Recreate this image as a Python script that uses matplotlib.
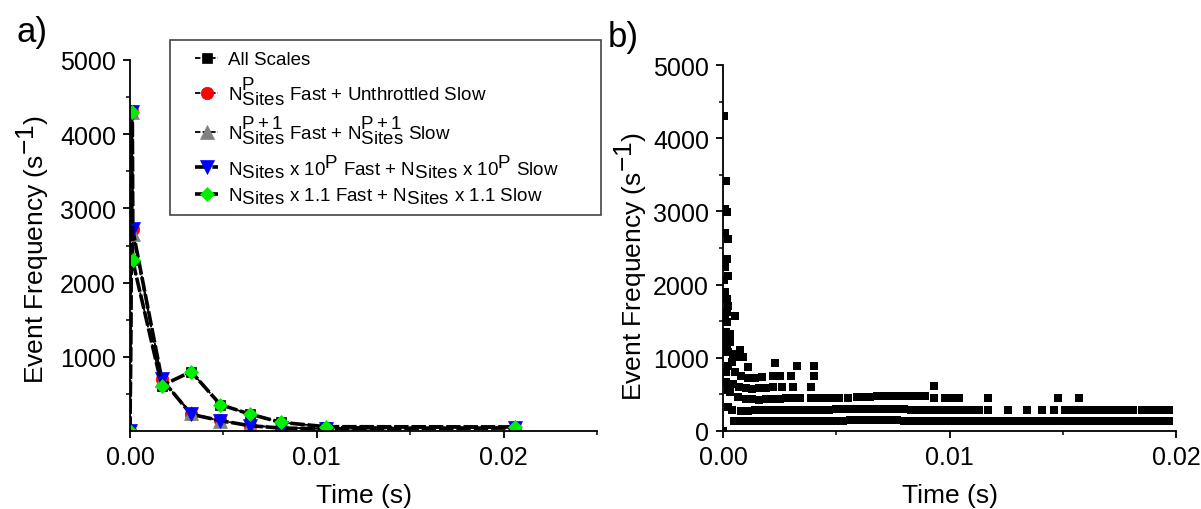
import matplotlib
matplotlib.use("Agg")
import matplotlib.pyplot as plt
from matplotlib.patches import Rectangle
import matplotlib._mathtext as _mt

# Origin-style full-size sub/superscripts
_mt.SHRINK_FACTOR = 1.0

plt.rcParams['font.family'] = ['Liberation Sans', 'DejaVu Sans']
plt.rcParams['mathtext.fontset'] = 'custom'
plt.rcParams['mathtext.rm'] = 'Liberation Sans'
plt.rcParams['mathtext.it'] = 'Liberation Sans:italic'
plt.rcParams['mathtext.bf'] = 'Liberation Sans:bold'

# ---------------- Panel a data ----------------
t_a = [0.0, 0.00012, 0.00014, 0.0017, 0.00327, 0.00484, 0.0064, 0.00807, 0.0105, 0.0206]
all_scales = [0, 4300, 2300, 611, 800, 355, 229, 117, 58, 40]
np_fast_unthrottled = [0, 4310, 2720, 700, 232, 142, 74, 45, 30, 45]
np1_fast_np1_slow = [0, 4300, 2650, 690, 245, 130, 80, 40, 30, 55]
n10p_fast_n10p_slow = [0, 4300, 2720, 700, 225, 140, 72, 40, 30, 40]
n11_fast_n11_slow = [0, 4300, 2300, 611, 800, 355, 229, 117, 58, 55]

labels_a = [
    "All Scales",
    r"$\mathregular{N^{P}_{Sites}}$ Fast + Unthrottled Slow",
    r"$\mathregular{N^{P+1}_{Sites}}$ Fast + $\mathregular{N^{P+1}_{Sites}}$ Slow",
    r"$\mathregular{N_{Sites}}$ x 10$^{\mathregular{P}}$ Fast + $\mathregular{N_{Sites}}$ x 10$^{\mathregular{P}}$ Slow",
    r"$\mathregular{N_{Sites}}$ x 1.1 Fast + $\mathregular{N_{Sites}}$ x 1.1 Slow",
]

# ---------------- Panel b data ----------------
burst_t = [0.0, 0.00006, 0.00012, 0.00009, 0.00016, 0.00009, 0.00021, 0.00016, 0.00009,
           0.00020, 0.00006, 0.00010, 0.00016, 0.00024, 0.00016, 0.00053, 0.00008,
           0.00018, 0.00012, 0.00030, 0.00024, 0.00016, 0.00006, 0.00016, 0.00053,
           0.00024, 0.00053, 0.00038, 0.00020, 0.00012, 0.00030, 0.00045, 0.00014,
           0.00024]
burst_f = [0, 4300, 3420, 3030, 2990, 2710, 2620, 2350, 2240,
           2120, 2060, 1900, 1800, 1710, 1620, 1570, 1530,
           1490, 1350, 1320, 1300, 1190, 1250, 1075, 1007,
           892, 802, 940, 1080, 800, 1210, 1050, 665,
           560]

band1_t = [0.0005, 0.0008, 0.0011, 0.0014, 0.0017, 0.0020, 0.0023, 0.0026, 0.0029, 0.0032,
           0.0035, 0.0038, 0.0041, 0.0044, 0.0047, 0.0050, 0.0053, 0.0056, 0.0059, 0.0062,
           0.0065, 0.0068, 0.0071, 0.0074, 0.0077, 0.0080, 0.0083, 0.0086, 0.0089, 0.0092,
           0.0095, 0.0098, 0.0101, 0.0104, 0.0107, 0.0110, 0.0113, 0.0116, 0.0119, 0.0122,
           0.0125, 0.0128, 0.0131, 0.0134, 0.0137, 0.0140, 0.0143, 0.0146, 0.0149, 0.0152,
           0.0155, 0.0158, 0.0161, 0.0164, 0.0167, 0.0170, 0.0173, 0.0176, 0.0179, 0.0182,
           0.0185, 0.0188, 0.0191, 0.0194, 0.0197]
band1_f = [140, 135, 130, 130, 130, 132, 132, 133, 133, 133,
           134, 134, 135, 135, 136, 137, 140, 145, 148, 150,
           150, 150, 150, 150, 148, 142, 138, 136, 135, 135,
           135, 135, 135, 135, 135, 135, 135, 135, 135, 135,
           135, 135, 135, 135, 135, 135, 135, 136, 137, 138,
           138, 138, 138, 138, 138, 137, 136, 136, 136, 136,
           136, 136, 136, 136, 136]

band2_t = [0.00024, 0.00038,
           0.0008, 0.0011, 0.0014, 0.0017, 0.0020, 0.0023, 0.0026, 0.0029, 0.0032, 0.0035,
           0.0038, 0.0041, 0.0044, 0.0047, 0.0050, 0.0053, 0.0056, 0.0059, 0.0062, 0.0065,
           0.0068, 0.0071, 0.0074, 0.0077, 0.0080, 0.0083, 0.0086, 0.0089, 0.0092, 0.0095,
           0.0098, 0.0101, 0.0104, 0.0107,
           0.0110, 0.0113, 0.0117, 0.0126, 0.0134, 0.0141, 0.0146, 0.0151, 0.0154, 0.0157,
           0.0160, 0.0163, 0.0166, 0.0169, 0.0172, 0.0175, 0.0178, 0.0181, 0.0185, 0.0188,
           0.0191, 0.0194, 0.0197]
band2_f = [323, 290,
           280, 280, 282, 284, 285, 286, 286, 287, 288, 288,
           288, 289, 290, 292, 294, 296, 298, 300, 300, 302,
           302, 302, 300, 298, 296, 292, 290, 288, 287, 287,
           287, 287, 287, 287,
           287, 287, 287, 287, 287, 287, 287, 287, 287, 287,
           287, 287, 287, 287, 287, 287, 287, 287, 287, 287,
           287, 287, 287]

band3_t = [0.0003, 0.00068, 0.0010, 0.0013, 0.0016, 0.0019, 0.0022, 0.0025, 0.0028, 0.0031,
           0.0034, 0.0039, 0.0042, 0.0045, 0.0048, 0.0051, 0.0055, 0.0059, 0.0062, 0.0065,
           0.0068, 0.0071, 0.0074, 0.0077, 0.0080, 0.0083, 0.0086, 0.0089, 0.0093, 0.0098,
           0.0101, 0.0104, 0.0117, 0.0148, 0.0157]
band3_f = [529, 460, 440, 432, 430, 435, 440, 443, 445, 447,
           448, 450, 450, 450, 452, 452, 455, 460, 465, 470,
           475, 480, 482, 482, 480, 478, 475, 472, 455, 450,
           450, 450, 450, 450, 450]

band4_t = [0.00045, 0.0007, 0.0010, 0.0013, 0.0016, 0.0019, 0.0022, 0.0026, 0.0031, 0.0039, 0.0093]
band4_f = [640, 600, 585, 580, 585, 590, 600, 600, 600, 600, 620]

band5_t = [0.00053, 0.0008, 0.0011, 0.0014, 0.0017, 0.0022, 0.0025, 0.0030, 0.0040]
band5_f = [800, 745, 720, 720, 735, 750, 745, 750, 750]

band6_t = [0.00075, 0.0009, 0.0011, 0.0023, 0.00325, 0.0040]
band6_f = [1100, 1010, 880, 925, 885, 885]

# ---------------- Figure ----------------
fig = plt.figure(figsize=(12.01, 5.10), dpi=100)
W, H = 1201, 510

ax_a = fig.add_axes([130 / W, 1 - 432 / H, 467 / W, 371 / H])
ax_b = fig.add_axes([723 / W, 1 - 432 / H, 453 / W, 366 / H])

tick_fs = 18
lab_fs = 19

for ax in (ax_a, ax_b):
    for s in ('top', 'right'):
        ax.spines[s].set_visible(False)
    for s in ('left', 'bottom'):
        ax.spines[s].set_linewidth(1.3)
    ax.tick_params(which='major', direction='out', length=5, width=1.3,
                   labelsize=tick_fs, pad=5)
    ax.tick_params(which='minor', direction='out', length=3, width=1.1)

# Panel a
series = [
    (all_scales, 's', 'black', 6.5, 1.3, (3, 1.2)),
    (np_fast_unthrottled, 'o', 'red', 9, 1.3, (3, 1.2)),
    (np1_fast_np1_slow, '^', 'gray', 9.5, 1.3, (3, 1.2)),
    (n10p_fast_n10p_slow, 'v', 'blue', 9.5, 2.6, (4, 0.8)),
    (n11_fast_n11_slow, 'D', '#00ee00', 7.5, 2.6, (4, 0.8)),
]
handles = []
for (vals, mk, col, ms, lw, dsh), lab in zip(series, labels_a):
    ln, = ax_a.plot(t_a, vals, linestyle='--', dashes=dsh, color='black', lw=lw,
                    marker=mk, markersize=ms, markerfacecolor=col,
                    markeredgecolor=col, markeredgewidth=0.5, label=lab)
    handles.append(ln)

ax_a.set_xlim(0, 0.025)
ax_a.set_ylim(0, 5000)
ax_a.set_xticks([0.0, 0.01, 0.02])
ax_a.set_xticklabels(['0.00', '0.01', '0.02'])
ax_a.set_xticks([0.005, 0.015, 0.025], minor=True)
ax_a.set_yticks([1000, 2000, 3000, 4000, 5000])
ax_a.set_yticks([500, 1500, 2500, 3500, 4500], minor=True)
ax_a.set_xlabel('Time (s)', fontsize=lab_fs, va='top')
ax_a.set_ylabel(r'Event Frequency (s$^{\mathregular{-1}}$)', fontsize=lab_fs, va='center')
ax_a.xaxis.set_label_coords(0.5, -0.14)
ax_a.yaxis.set_label_coords(-0.208, 0.493)

# Legend frame and legend
frame = Rectangle((170 / W, 1 - 216 / H), 431 / W, 175 / H, transform=fig.transFigure,
                  facecolor='white', edgecolor='#444444', linewidth=1.2, zorder=5)
fig.add_artist(frame)
leg = fig.legend(handles=handles, loc='upper left',
                 bbox_to_anchor=(195 / W, 1 - 52 / H), bbox_transform=fig.transFigure,
                 frameon=False, fontsize=13.5, borderpad=0, borderaxespad=0,
                 handlelength=1.25, handletextpad=0.5, labelspacing=0.34)
leg.set_zorder(6)

# Panel b
for bt, bf in [(burst_t, burst_f), (band1_t, band1_f), (band2_t, band2_f),
               (band3_t, band3_f), (band4_t, band4_f), (band5_t, band5_f),
               (band6_t, band6_f)]:
    ax_b.plot(bt, bf, linestyle='none', marker='s', markersize=6.2,
              color='black', markeredgewidth=0)

ax_b.set_xlim(0, 0.02)
ax_b.set_ylim(0, 5000)
ax_b.set_xticks([0.0, 0.01, 0.02])
ax_b.set_xticklabels(['0.00', '0.01', '0.02'])
ax_b.set_xticks([0.005, 0.015], minor=True)
ax_b.set_yticks([0, 1000, 2000, 3000, 4000, 5000])
ax_b.set_yticks([500, 1500, 2500, 3500, 4500], minor=True)
ax_b.set_xlabel('Time (s)', fontsize=lab_fs, va='top')
ax_b.set_ylabel(r'Event Frequency (s$^{\mathregular{-1}}$)', fontsize=lab_fs, va='center')
ax_b.xaxis.set_label_coords(0.501, -0.142)
ax_b.yaxis.set_label_coords(-0.205, 0.451)

fig.text(16 / W, 1 - 42 / H, 'a)', fontsize=25, va='baseline', ha='left')
fig.text(608 / W, 1 - 47 / H, 'b)', fontsize=25, va='baseline', ha='left')

fig.savefig('out.png', dpi=100)
